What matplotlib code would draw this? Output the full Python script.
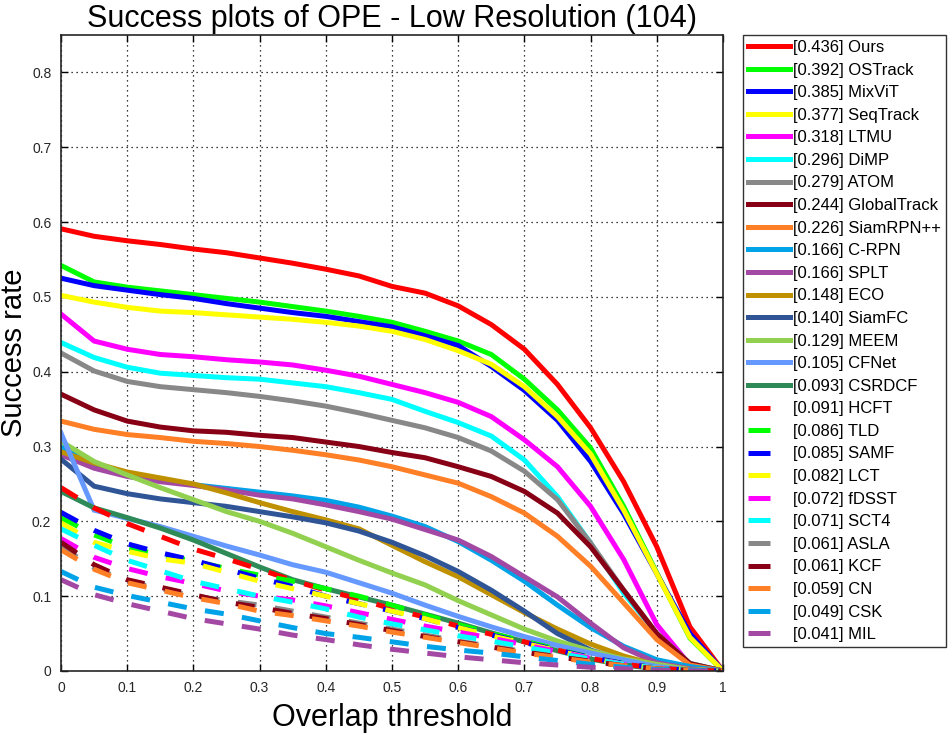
import matplotlib
matplotlib.use("Agg")
import matplotlib.pyplot as plt
from matplotlib.lines import Line2D
import numpy as np

plt.rcParams['font.family'] = ['Liberation Sans', 'DejaVu Sans']

# overlap thresholds 0:0.05:1
thresholds = np.linspace(0, 1, 21)

names = ['Ours', 'OSTrack', 'MixViT', 'SeqTrack', 'LTMU', 'DiMP', 'ATOM',
         'GlobalTrack', 'SiamRPN++', 'C-RPN', 'SPLT', 'ECO', 'SiamFC', 'MEEM',
         'CFNet', 'CSRDCF', 'HCFT', 'TLD', 'SAMF', 'LCT', 'fDSST', 'SCT4',
         'ASLA', 'KCF', 'CN', 'CSK', 'MIL']
auc = [0.436, 0.392, 0.385, 0.377, 0.318, 0.296, 0.279, 0.244, 0.226, 0.166,
       0.166, 0.148, 0.140, 0.129, 0.105, 0.093, 0.091, 0.086, 0.085, 0.082,
       0.072, 0.071, 0.061, 0.061, 0.059, 0.049, 0.041]

ours = [0.591, 0.581, 0.575, 0.570, 0.564, 0.559, 0.552, 0.545, 0.537, 0.528, 0.514,
        0.505, 0.488, 0.463, 0.430, 0.383, 0.325, 0.253, 0.166, 0.059, 0.0]
ostrack = [0.542, 0.520, 0.513, 0.508, 0.503, 0.498, 0.493, 0.487, 0.481, 0.474, 0.466,
           0.454, 0.441, 0.423, 0.390, 0.349, 0.298, 0.220, 0.131, 0.044, 0.0]
mixvit = [0.525, 0.515, 0.509, 0.503, 0.498, 0.491, 0.485, 0.479, 0.474, 0.467, 0.460,
          0.448, 0.435, 0.407, 0.375, 0.335, 0.280, 0.210, 0.130, 0.050, 0.0]
seqtrack = [0.502, 0.493, 0.486, 0.481, 0.479, 0.476, 0.473, 0.470, 0.466, 0.461, 0.454,
            0.443, 0.428, 0.410, 0.380, 0.340, 0.290, 0.215, 0.130, 0.045, 0.0]
ltmu = [0.477, 0.441, 0.430, 0.423, 0.420, 0.416, 0.413, 0.409, 0.402, 0.394, 0.383,
        0.372, 0.359, 0.340, 0.309, 0.273, 0.220, 0.149, 0.062, 0.008, 0.0]
dimp = [0.439, 0.419, 0.406, 0.398, 0.395, 0.392, 0.390, 0.385, 0.380, 0.372, 0.363,
        0.347, 0.332, 0.314, 0.282, 0.233, 0.171, 0.104, 0.050, 0.010, 0.0]
atom = [0.425, 0.401, 0.387, 0.380, 0.376, 0.372, 0.367, 0.361, 0.354, 0.345, 0.335,
        0.325, 0.312, 0.294, 0.267, 0.229, 0.171, 0.108, 0.050, 0.010, 0.0]
globaltrack = [0.370, 0.349, 0.334, 0.326, 0.321, 0.319, 0.315, 0.312, 0.306, 0.300, 0.292,
               0.285, 0.273, 0.260, 0.240, 0.211, 0.166, 0.108, 0.050, 0.010, 0.0]
siamrpnpp = [0.334, 0.323, 0.316, 0.312, 0.307, 0.304, 0.300, 0.295, 0.289, 0.282, 0.273,
             0.262, 0.251, 0.233, 0.211, 0.180, 0.140, 0.091, 0.042, 0.008, 0.0]
crpn = [0.300, 0.275, 0.262, 0.255, 0.249, 0.244, 0.239, 0.234, 0.228, 0.219, 0.207,
        0.193, 0.173, 0.148, 0.120, 0.088, 0.058, 0.033, 0.015, 0.006, 0.0]
splt = [0.289, 0.271, 0.260, 0.253, 0.248, 0.242, 0.235, 0.230, 0.222, 0.213, 0.203,
        0.189, 0.175, 0.153, 0.126, 0.099, 0.064, 0.031, 0.011, 0.003, 0.0]
eco = [0.293, 0.278, 0.266, 0.258, 0.250, 0.238, 0.225, 0.213, 0.202, 0.190, 0.168,
       0.146, 0.126, 0.102, 0.078, 0.056, 0.036, 0.020, 0.008, 0.002, 0.0]
siamfc = [0.283, 0.247, 0.237, 0.230, 0.225, 0.220, 0.213, 0.206, 0.198, 0.187, 0.172,
          0.154, 0.133, 0.108, 0.080, 0.050, 0.028, 0.014, 0.005, 0.001, 0.0]
meem = [0.307, 0.280, 0.262, 0.245, 0.229, 0.213, 0.200, 0.184, 0.166, 0.148, 0.131,
        0.115, 0.094, 0.075, 0.056, 0.040, 0.027, 0.016, 0.009, 0.002, 0.0]
cfnet = [0.318, 0.215, 0.204, 0.193, 0.180, 0.167, 0.155, 0.142, 0.132, 0.118, 0.104,
         0.088, 0.073, 0.059, 0.046, 0.034, 0.024, 0.015, 0.006, 0.001, 0.0]
csrdcf = [0.240, 0.218, 0.205, 0.191, 0.175, 0.157, 0.139, 0.122, 0.110, 0.099, 0.088,
          0.076, 0.064, 0.051, 0.039, 0.027, 0.016, 0.008, 0.003, 0.001, 0.0]
hcft = [0.245, 0.218, 0.197, 0.180, 0.163, 0.150, 0.136, 0.121, 0.108, 0.096, 0.083,
        0.072, 0.060, 0.049, 0.039, 0.028, 0.017, 0.009, 0.004, 0.001, 0.0]
tld = [0.205, 0.182, 0.165, 0.155, 0.147, 0.137, 0.128, 0.120, 0.110, 0.100, 0.088,
       0.075, 0.062, 0.050, 0.040, 0.029, 0.018, 0.010, 0.004, 0.001, 0.0]
samf = [0.212, 0.188, 0.170, 0.158, 0.148, 0.136, 0.124, 0.113, 0.100, 0.090, 0.080,
        0.070, 0.058, 0.048, 0.038, 0.028, 0.018, 0.010, 0.004, 0.001, 0.0]
lct = [0.198, 0.172, 0.160, 0.150, 0.144, 0.132, 0.120, 0.110, 0.100, 0.090, 0.080,
       0.070, 0.058, 0.047, 0.037, 0.027, 0.017, 0.009, 0.004, 0.001, 0.0]
fdsst = [0.177, 0.152, 0.137, 0.126, 0.117, 0.107, 0.100, 0.095, 0.087, 0.078, 0.069,
         0.060, 0.052, 0.044, 0.035, 0.026, 0.017, 0.009, 0.004, 0.001, 0.0]
sct4 = [0.190, 0.168, 0.148, 0.134, 0.120, 0.110, 0.100, 0.092, 0.083, 0.072, 0.063,
        0.055, 0.047, 0.040, 0.032, 0.024, 0.016, 0.009, 0.004, 0.001, 0.0]
asla = [0.166, 0.138, 0.120, 0.110, 0.100, 0.094, 0.088, 0.080, 0.072, 0.064, 0.056,
        0.048, 0.040, 0.033, 0.026, 0.019, 0.013, 0.007, 0.003, 0.001, 0.0]
kcf = [0.172, 0.142, 0.122, 0.112, 0.102, 0.092, 0.085, 0.077, 0.070, 0.062, 0.054,
       0.046, 0.039, 0.032, 0.025, 0.019, 0.013, 0.007, 0.003, 0.001, 0.0]
cn = [0.162, 0.136, 0.118, 0.108, 0.098, 0.090, 0.080, 0.074, 0.067, 0.060, 0.052,
      0.045, 0.038, 0.031, 0.024, 0.018, 0.012, 0.007, 0.003, 0.001, 0.0]
csk = [0.133, 0.112, 0.101, 0.092, 0.083, 0.076, 0.067, 0.058, 0.050, 0.045, 0.039,
       0.033, 0.028, 0.024, 0.019, 0.014, 0.009, 0.005, 0.002, 0.001, 0.0]
mil = [0.122, 0.102, 0.090, 0.080, 0.070, 0.063, 0.056, 0.048, 0.042, 0.035, 0.029,
       0.024, 0.019, 0.015, 0.011, 0.008, 0.005, 0.003, 0.001, 0.0, 0.0]

curves = [ours, ostrack, mixvit, seqtrack, ltmu, dimp, atom, globaltrack, siamrpnpp,
          crpn, splt, eco, siamfc, meem, cfnet, csrdcf, hcft, tld, samf, lct, fdsst,
          sct4, asla, kcf, cn, csk, mil]

base_colors = ['#ff0000', '#00ff00', '#0000ff', '#ffff00', '#ff00ff', '#00ffff',
               '#888888', '#880015', '#ff7f27', '#00a2e8', '#a349a4', '#bf9000',
               '#2f5597', '#92d050', '#6699ff', '#2e8b57']
colors = base_colors + base_colors[:11]
n_solid = 16

fig = plt.figure(figsize=(9.52, 7.35), dpi=100)
ax = fig.add_axes([61 / 952, 1 - 671 / 735, (723 - 61) / 952, (671 - 35) / 735])

lw = 3.6
handles = []
for i, (name, a, y) in enumerate(zip(names, auc, curves)):
    if i < n_solid:
        ls = '-'
        hls = '-'
    else:
        ls = (0, (3.8, 3.7))
        hls = (0, (4.4, 20))
    ax.plot(thresholds, y, color=colors[i], lw=lw, linestyle=ls,
            solid_joinstyle='miter')
    handles.append(Line2D([0], [0], color=colors[i], lw=lw, linestyle=hls,
                          label='[%.3f] %s' % (a, name)))

ax.set_xlim(0, 1)
ax.set_ylim(0, 0.85)
ax.set_xticks(np.arange(0, 1.01, 0.1))
ax.set_yticks(np.arange(0, 0.81, 0.1))
ax.set_xticklabels(['0', '0.1', '0.2', '0.3', '0.4', '0.5', '0.6', '0.7', '0.8', '0.9', '1'])
ax.set_yticklabels(['0', '0.1', '0.2', '0.3', '0.4', '0.5', '0.6', '0.7', '0.8'])
ax.grid(True, color='black', linestyle=(0, (1, 3)), linewidth=0.9)
ax.tick_params(direction='in', top=True, right=True, length=5, width=1,
               labelsize=10, labelcolor='#262626', pad=7)
for s in ax.spines.values():
    s.set_linewidth(1.2)
    s.set_color('#262626')

ax.set_title('Success plots of OPE - Low Resolution (104)', fontsize=22, pad=6)
ax.set_xlabel('Overlap threshold', fontsize=22, labelpad=6)
ax.set_ylabel('Success rate', fontsize=21, labelpad=3)

leg = fig.legend(handles=handles, loc='upper left',
                 bbox_to_anchor=(743 / 952, 1 - 35 / 735), fontsize=12,
                 frameon=True, fancybox=False, edgecolor='black',
                 handlelength=2.5, handletextpad=0.2, labelspacing=0.455,
                 borderpad=0.3, borderaxespad=0)
leg.get_frame().set_linewidth(1.0)

fig.savefig('out.png', dpi=100)
